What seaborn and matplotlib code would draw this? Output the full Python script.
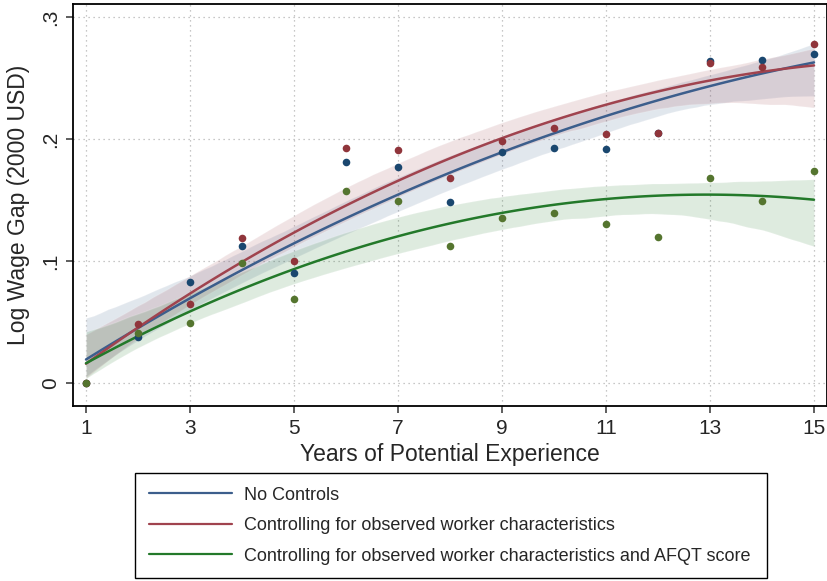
import numpy as np
import pandas as pd
import matplotlib
matplotlib.use("Agg")
import matplotlib.pyplot as plt
from matplotlib.lines import Line2D
import seaborn as sns

# Values
exper = [1, 2, 3, 4, 5, 6, 7, 8, 9, 10, 11, 12, 13, 14, 15]
gap_none = [0.0, 0.038, 0.083, 0.112, 0.090, 0.181, 0.177, 0.148, 0.189, 0.193, 0.192, 0.205, 0.264, 0.265, 0.270]
gap_obs = [0.0, 0.048, 0.065, 0.119, 0.100, 0.193, 0.191, 0.168, 0.198, 0.209, 0.204, 0.205, 0.262, 0.259, 0.278]
gap_afqt = [0.0, 0.041, 0.049, 0.098, 0.069, 0.157, 0.149, 0.112, 0.135, 0.139, 0.130, 0.120, 0.168, 0.149, 0.174]

labels = [
    "No Controls",
    "Controlling for observed worker characteristics",
    "Controlling for observed worker characteristics and AFQT score",
]
line_colors = ["#3c5e8c", "#a0434e", "#23792a"]
dot_colors = ["#1a476f", "#90353b", "#55752f"]

x_ticks = [1, 3, 5, 7, 9, 11, 13, 15]
y_ticks = [0, 0.1, 0.2, 0.3]
y_ticklabels = ["0", ".1", ".2", ".3"]


def setup_style():
    sns.set_theme(style="white")
    plt.rcParams["font.family"] = ["Liberation Sans", "DejaVu Sans"]


def make_plot():
    setup_style()
    df = pd.DataFrame({"exper": exper, "none": gap_none, "obs": gap_obs, "afqt": gap_afqt})
    series = ["none", "obs", "afqt"]

    fig = plt.figure(figsize=(8.27, 5.81), dpi=100)
    ax = fig.add_axes([73 / 827, 1 - 406 / 581, 1 - 73 / 827, 402 / 581])

    # quadratic fits with confidence bands
    for col, lc in zip(series, line_colors):
        sns.regplot(data=df, x="exper", y=col, order=2, ci=85, n_boot=1000, seed=1,
                    scatter=False, color=lc, line_kws={"lw": 1.8, "zorder": 3}, ax=ax)

    for col, dc in zip(series, dot_colors):
        sns.scatterplot(data=df, x="exper", y=col, color=dc, s=30, linewidth=0,
                        zorder=4, ax=ax)

    ax.set_xlim(0.75, 15.25)
    ax.set_ylim(-0.0189, 0.3107)
    ax.set_xticks(x_ticks)
    ax.set_yticks(y_ticks)
    ax.set_yticklabels(y_ticklabels, rotation=90, va="center")
    ax.tick_params(axis="both", labelsize=15, length=5, width=1.1, direction="out",
                   color="#333333", bottom=True, left=True, pad=4)
    ax.grid(True, color="#b5b5b5", linestyle=(0, (1, 3)), linewidth=0.9)
    ax.set_axisbelow(True)
    for side in ["left", "bottom", "top", "right"]:
        ax.spines[side].set_color("black")
        ax.spines[side].set_linewidth(1.3)

    ax.set_xlabel("Years of Potential Experience", fontsize=16.5, labelpad=4)
    ax.set_ylabel("Log Wage Gap (2000 USD)", fontsize=16.5, labelpad=8)

    handles = [Line2D([0], [0], color=c, lw=1.6) for c in line_colors]
    fig.legend(handles, labels, loc="upper left",
               bbox_to_anchor=(135 / 827, 0, 632 / 827, 1 - 473 / 581),
               mode="expand", fontsize=13, frameon=True, fancybox=False,
               edgecolor="black", framealpha=1, handlelength=4.6,
               handletextpad=0.7, labelspacing=0.75, borderpad=0.75,
               borderaxespad=0)

    fig.savefig("out.png", dpi=100)
    plt.close(fig)


if __name__ == "__main__":
    make_plot()
